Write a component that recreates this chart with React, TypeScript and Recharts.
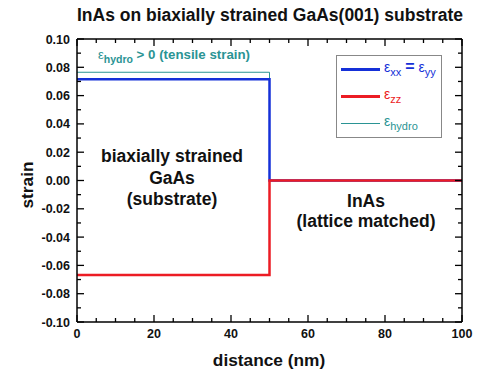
/**
 * Strain profile chart - InAs on biaxially strained GaAs(001)
 */

import { LineChart, Line, XAxis, YAxis } from 'recharts'

// distance (nm) and strain components
const distance = [0, 50, 50, 100]
const epsXX = [0.0716, 0.0716, 0, 0]
const epsZZ = [-0.0667, -0.0667, 0, 0]
const epsHydro = [0.0765, 0.0765, 0, 0]

const xTicks = [0, 5, 10, 15, 20, 25, 30, 35, 40, 45, 50, 55, 60, 65, 70, 75, 80, 85, 90, 95, 100]
const yTicks = [
  -0.1, -0.09, -0.08, -0.07, -0.06, -0.05, -0.04, -0.03, -0.02, -0.01, 0,
  0.01, 0.02, 0.03, 0.04, 0.05, 0.06, 0.07, 0.08, 0.09, 0.1,
]

const data = distance.map((d, i) => ({ x: d, xx: epsXX[i], zz: epsZZ[i], hydro: epsHydro[i] }))

const FONT = '"Liberation Sans", Arial, sans-serif'
const BLUE = '#1530d8'
const RED = '#ec1c24'
const TEAL = '#2a9494'

const isMajorX = (v: number) => Math.round(v) % 20 === 0
const isMajorY = (v: number) => Math.round(v * 100) % 2 === 0

// ticks point inward, labels only on bottom / left
function BottomTick({ x, y, payload }: any) {
  const major = isMajorX(payload.value)
  return (
    <g>
      <line x1={x} y1={y} x2={x} y2={y - (major ? 7 : 4)} stroke="#000" strokeWidth={1.3} />
      {major && (
        <text x={x} y={y + 16} textAnchor="middle" fontSize={12.5} fontWeight="bold" fontFamily={FONT} fill="#111">
          {payload.value}
        </text>
      )}
    </g>
  )
}

function TopTick({ x, y, payload }: any) {
  const major = isMajorX(payload.value)
  return <line x1={x} y1={y} x2={x} y2={y + (major ? 7 : 4)} stroke="#000" strokeWidth={1.3} />
}

function LeftTick({ x, y, payload }: any) {
  const major = isMajorY(payload.value)
  return (
    <g>
      <line x1={x} y1={y} x2={x + (major ? 7 : 4)} y2={y} stroke="#000" strokeWidth={1.3} />
      {major && (
        <text x={x - 7} y={y + 4.5} textAnchor="end" fontSize={12.5} fontWeight="bold" fontFamily={FONT} fill="#111">
          {payload.value.toFixed(2)}
        </text>
      )}
    </g>
  )
}

function RightTick({ x, y, payload }: any) {
  const major = isMajorY(payload.value)
  return <line x1={x} y1={y} x2={x - (major ? 7 : 4)} y2={y} stroke="#000" strokeWidth={1.3} />
}

const eps = (sub: string, color: string) => (
  <span style={{ color }}>
    <span style={{ fontWeight: 'normal', fontSize: 14 }}>ε</span>
    <sub style={{ fontSize: 11, fontWeight: 'normal', verticalAlign: -4 }}>{sub}</sub>
  </span>
)

function LegendBox() {
  const row = (color: string, w: number, label: any) => (
    <div style={{ display: 'flex', alignItems: 'center', height: 27 }}>
      <div style={{ width: 39, height: w, background: color, marginRight: 4 }} />
      <div style={{ color, fontFamily: FONT, fontSize: 14, lineHeight: '14px' }}>{label}</div>
    </div>
  )
  return (
    <div
      style={{
        position: 'absolute',
        left: 336,
        top: 55,
        width: 106,
        height: 83,
        border: '1px solid #888',
        background: '#fff',
        padding: '0 0 0 4px',
        boxSizing: 'border-box',
        display: 'flex',
        flexDirection: 'column',
        justifyContent: 'center',
      }}
    >
      {row(BLUE, 3, <span>{eps('xx', BLUE)} <span style={{ fontWeight: 'bold', fontSize: 16 }}>=</span> {eps('yy', BLUE)}</span>)}
      {row(RED, 3, eps('zz', RED))}
      {row(TEAL, 1, eps('hydro', TEAL))}
    </div>
  )
}

const textStyle = (left: number, top: number, size: number, color = '#111'): any => ({
  position: 'absolute',
  left,
  top,
  transform: 'translate(-50%, -50%)',
  whiteSpace: 'nowrap',
  fontFamily: FONT,
  fontWeight: 'bold',
  fontSize: size,
  color,
  lineHeight: 1,
})

export default function App() {
  return (
    <div style={{ position: 'absolute', left: 0, top: 0, width: 477, height: 375, background: '#fff', overflow: 'hidden' }}>
      <LineChart
        width={477}
        height={375}
        data={data}
        margin={{ top: 38, right: 14, bottom: 52, left: 76 }}
      >
        <XAxis
          dataKey="x"
          type="number"
          domain={[0, 100]}
          ticks={xTicks}
          interval={0}
          height={1}
          tickSize={0}
          tickMargin={0}
          tick={<BottomTick />}
          axisLine={{ stroke: '#000', strokeWidth: 1.5 }}
          allowDataOverflow
        />
        <XAxis
          xAxisId="top"
          orientation="top"
          dataKey="x"
          type="number"
          domain={[0, 100]}
          ticks={xTicks}
          interval={0}
          height={1}
          tickSize={0}
          tickMargin={0}
          tick={<TopTick />}
          axisLine={{ stroke: '#000', strokeWidth: 1.5 }}
          allowDataOverflow
        />
        <YAxis
          type="number"
          domain={[-0.1, 0.1]}
          ticks={yTicks}
          interval={0}
          width={1}
          tickSize={0}
          tickMargin={0}
          tick={<LeftTick />}
          axisLine={{ stroke: '#000', strokeWidth: 1.5 }}
          allowDataOverflow
        />
        <YAxis
          yAxisId="right"
          orientation="right"
          type="number"
          domain={[-0.1, 0.1]}
          ticks={yTicks}
          interval={0}
          width={1}
          tickSize={0}
          tickMargin={0}
          tick={<RightTick />}
          axisLine={{ stroke: '#000', strokeWidth: 1.5 }}
          allowDataOverflow
        />
        <Line dataKey="hydro" type="linear" stroke={TEAL} strokeWidth={1} dot={false} isAnimationActive={false} />
        <Line dataKey="xx" type="linear" stroke={BLUE} strokeWidth={2.5} dot={false} isAnimationActive={false} />
        <Line dataKey="zz" type="linear" stroke={RED} strokeWidth={2.5} dot={false} isAnimationActive={false} />
      </LineChart>

      <LegendBox />

      <div style={textStyle(270, 16, 17.5)}>InAs on biaxially strained GaAs(001) substrate</div>
      <div style={textStyle(269, 361, 17.3)}>distance (nm)</div>
      <div style={{ ...textStyle(28, 185, 17.3), transform: 'translate(-50%, -50%) rotate(-90deg)' }}>strain</div>

      <div style={textStyle(174, 56, 13.3, TEAL)}>
        <span style={{ fontWeight: 'normal', fontSize: 13 }}>ε</span>
        <sub style={{ fontSize: 10.5, verticalAlign: -4 }}>hydro</sub> &gt; 0 (tensile strain)
      </div>

      <div style={textStyle(172, 157, 17.5)}>biaxially strained</div>
      <div style={textStyle(172, 179, 17.5)}>GaAs</div>
      <div style={textStyle(172, 200, 17.5)}>(substrate)</div>

      <div style={textStyle(366, 202, 17.5)}>InAs</div>
      <div style={textStyle(366, 222, 17.5)}>(lattice matched)</div>
    </div>
  )
}
